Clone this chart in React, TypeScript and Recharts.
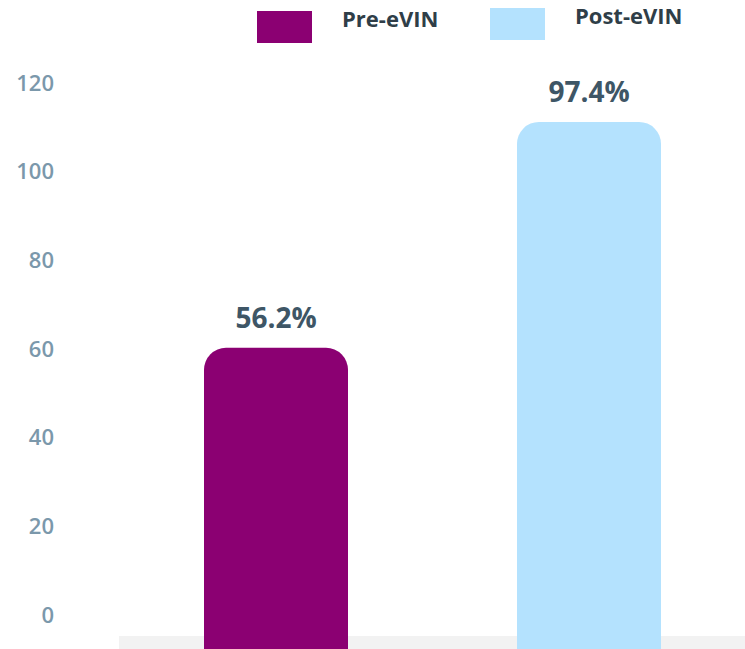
import { BarChart, Bar, Cell, XAxis, YAxis, Legend, ReferenceArea, LabelList } from "recharts";

const categories = ["Pre-eVIN", "Post-eVIN"];
const coverage = [56.2, 97.4];
const barColors = ["#8B0072", "#B4E2FE"];
const yTicks = [0, 20, 40, 60, 80, 100, 120];

const data = categories.map((name, i) => ({ name, value: coverage[i] }));

const FONT = "'Open Sans', 'Noto Sans', sans-serif";

function LegendBox() {
  return (
    <div style={{ position: "relative", width: 745, height: 50, fontFamily: FONT }}>
      {categories.map((c, i) => (
        <div key={c}>
          <div
            style={{
              position: "absolute",
              left: i === 0 ? 257 : 490,
              top: i === 0 ? 11 : 8,
              width: 55,
              height: 32,
              background: barColors[i],
            }}
          />
          <div
            style={{
              position: "absolute",
              left: i === 0 ? 342 : 575,
              top: i === 0 ? 3 : 0,
              fontSize: 22,
              fontWeight: 700,
              color: "#2F3E48",
              whiteSpace: "nowrap",
            }}
          >
            {c}
          </div>
        </div>
      ))}
    </div>
  );
}

export default function App() {
  return (
    <div style={{ position: "absolute", left: 0, top: 0, width: 745, height: 649, background: "#fff" }}>
      <BarChart width={745} height={649} data={data} margin={{ top: 33, right: 0, left: 0, bottom: 0 }} barSize={144}>
        <Legend verticalAlign="top" align="left" height={50} content={() => <LegendBox />} wrapperStyle={{ top: 0, left: 0 }} />
        <XAxis dataKey="name" hide />
        <YAxis
          yAxisId="axis"
          width={119}
          domain={[-7.67, 120]}
          ticks={yTicks}
          allowDataOverflow
          axisLine={false}
          tickLine={false}
          tickSize={0}
          tickMargin={65}
          tick={{ fill: "#7B98AB", fontSize: 22, fontWeight: 600, fontFamily: FONT }}
        />
        <YAxis yAxisId="bars" orientation="right" hide domain={[1.28, 104.5]} allowDataOverflow />
        <ReferenceArea yAxisId="axis" y1={-7.67} y2={-4.74} fill="#F2F2F2" fillOpacity={1} strokeOpacity={0} />
        <Bar yAxisId="bars" dataKey="value" radius={[22, 22, 0, 0]} isAnimationActive={false}>
          {data.map((d, i) => (
            <Cell key={d.name} fill={barColors[i]} />
          ))}
          <LabelList
            dataKey="value"
            position="top"
            offset={20}
            formatter={(v: any) => `${v}%`}
            style={{ fill: "#3E5666", fontSize: 28, fontWeight: 700, fontFamily: FONT }}
          />
        </Bar>
      </BarChart>
    </div>
  );
}
